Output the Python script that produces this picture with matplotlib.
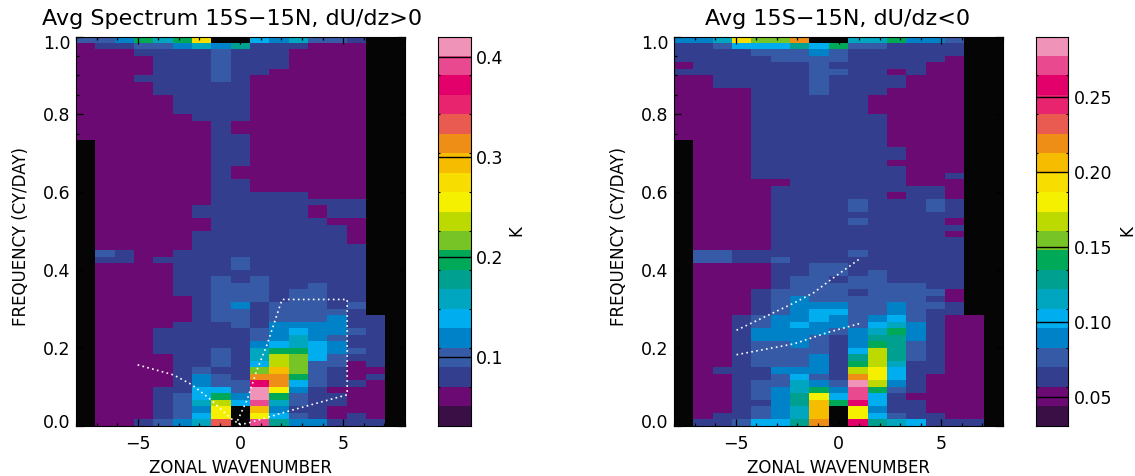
import numpy as np
import matplotlib
matplotlib.use('Agg')
import matplotlib.pyplot as plt
from matplotlib.colors import ListedColormap
from matplotlib.transforms import ScaledTranslation

plt.rcParams['font.family'] = ['DejaVu Sans']

# colour table, bottom to top
level_colors = ['#3a0f45', '#6b0a73', '#333e8f', '#365aa5', '#0082c8', '#00aeef',
                '#00a5c0', '#00a090', '#00a957', '#76c425', '#bcda00', '#f4f000',
                '#f8dd00', '#f5bc00', '#ee8e16', '#e95b50', '#e8246f', '#e4006a',
                '#e94a8f', '#f093b8']
codes = '0123456789abcdefghij'

# one string per frequency row, top row first, one char per wavenumber column
# char = colour level, '.' = black (off scale / no data)
rows_left = [
    '334868c..546332..',
    '122334647222111..',
    '111222232221111..',
    '111122232221111..',
    '111122232221111..',
    '111122232211111..',
    '111222232111111..',
    '111122222111111..',
    '111122222111111..',
    '111112222111111..',
    '111112222111111..',
    '111112222111111..',
    '111111222111111..',
    '111111121111111..',
    '111111121111111..',
    '111111122111111..',
    '.11111122111111..',
    '.11111122111111..',
    '.11111122111111..',
    '.11111122111111..',
    '.11111121111111..',
    '.11111121111111..',
    '.11111122111111..',
    '.11111122111111..',
    '.11111122222111..',
    '.11111122222222..',
    '.11111222222122..',
    '.11111222222122..',
    '.11111122222211..',
    '.11111122222221..',
    '.11111222222221..',
    '.11111222222221..',
    '.11111222222222..',
    '.32112222222222..',
    '.22122223222222..',
    '.11112223222222..',
    '.11112222222222..',
    '.11112232322222..',
    '.11112233322322..',
    '.11112233323322..',
    '.11111233323322..',
    '.11111234233323..',
    '.11111233233332..',
    '.111112332333422.',
    '.111122232444422.',
    '.111222223454432.',
    '.111222223464322.',
    '.111222224565422.',
    '.111222326885432.',
    '.111122326a95322.',
    '.111122325a93312.',
    '.111123229d93211.',
    '.11112432ee83212.',
    '.11112433he53221.',
    '.11122553jb42111.',
    '.11123584j832211.',
    '.111236a5i632211.',
    '.111234b.d422111.',
    '.111235b.b532121.',
    '.112346f.i744222.',
]

rows_right = [
    '446c99e..668443..',
    '223555758332222..',
    '222233343222222..',
    '222223333222221..',
    '122222232222211..',
    '222222233221211..',
    '112222232222111..',
    '112222232222111..',
    '111122232221111..',
    '111122222211111..',
    '111122222211111..',
    '111122222211111..',
    '111122222221111..',
    '111122222221111..',
    '111122222221111..',
    '111122222221111..',
    '.11122222221111..',
    '.11122222222111..',
    '.11122222222111..',
    '.11122222221111..',
    '.11122222222111..',
    '.11122222222112..',
    '.11111222222111..',
    '.11112222222221..',
    '.11112222221221..',
    '.11112222322232..',
    '.11112222322232..',
    '.11112222222222..',
    '.11112222322221..',
    '.11112222222222..',
    '.11112222222221..',
    '.11112222222222..',
    '.11112222222222..',
    '.33222222322222..',
    '.33223222222222..',
    '.11112233222222..',
    '.11112233232222..',
    '.11112332332222..',
    '.11112333333322..',
    '.11123333233331..',
    '.11123433333321..',
    '.11123444334332..',
    '.11123455334322..',
    '.112344543453211.',
    '.112345443564211.',
    '.112444434684211.',
    '.112444324774211.',
    '.112334324873211.',
    '.112333325a73211.',
    '.112333427a73211.',
    '.112333428a62211.',
    '.12224442ab52211.',
    '.11223532eb52111.',
    '.11233643ja42111.',
    '.11234684i832111.',
    '.112347b5i521111.',
    '.112247d8h522111.',
    '.112346d.b422111.',
    '.122346d.b532211.',
    '.223557e.h765222.',
]

# dotted dispersion curves, (wavenumber, frequency)
left_curve_k = [-5.0, -3.25, -2.36, -1.38, -0.49, 0.0, 0.49, 2.28, 3.9, 5.2, 5.2, 2.03, 1.3, 0.81, 0.33, -0.16, 0.0]
left_curve_f = [0.156, 0.13, 0.105, 0.064, 0.019, 0.002, 0.008, 0.036, 0.06, 0.079, 0.324, 0.324, 0.208, 0.143, 0.066, 0.01, 0.002]
right_upper_k = [-4.96, -2.16, -1.19, -0.37, 1.02]
right_upper_f = [0.245, 0.315, 0.342, 0.375, 0.428]
right_lower_k = [-4.96, -2.16, -0.54, 1.02]
right_lower_f = [0.182, 0.21, 0.239, 0.262]

title_left = 'Avg Spectrum 15S\u221215N, dU/dz>0'
title_right = 'Avg 15S\u221215N, dU/dz<0'
freq_ticks = [0.0, 0.2, 0.4, 0.6, 0.8, 1.0]
wave_ticks = [-5, 0, 5]
bar_left_lim = (0.031, 0.42)
bar_left_ticks = [0.1, 0.2, 0.3, 0.4]
bar_right_lim = (0.0311, 0.2905)
bar_right_ticks = [0.05, 0.10, 0.15, 0.20, 0.25]

W, H = 1135.0, 476.0
LABEL_FS = 12
TICK_FS = 12.5
TITLE_FS = 16
cmap = ListedColormap(['#050505'] + level_colors)
dots = (0, (1, 2))


def to_grid(rows):
    # map chars to 0 (black) and 1..20 (levels); row 0 is the top of the plot
    grid = [[0 if c == '.' else codes.index(c) + 1 for c in r] for r in rows]
    return np.array(grid)[::-1]


def px_axes(x0, x1, y0, y1):
    return fig.add_axes([x0 / W, 1 - y1 / H, (x1 - x0) / W, (y1 - y0) / H])


def shift_label(label, dy_px):
    # nudge a tick label vertically by some pixels
    label.set_transform(label.get_transform() + ScaledTranslation(0, dy_px / 100, fig.dpi_scale_trans))


def spectrum(x0, x1, rows):
    ax = px_axes(x0, x1, 36.5, 425.5)
    kedges = np.linspace(-8, 8, 18)
    fedges = np.linspace(0, 1, 61)
    ax.pcolormesh(kedges, fedges, to_grid(rows), cmap=cmap, vmin=-0.5, vmax=20.5, linewidth=0)
    ax.set_xlim(-8, 8)
    ax.set_ylim(0, 1)
    ax.set_xticks(wave_ticks)
    ax.set_xticklabels(['\u22125', '0', '5'])
    ax.set_xticks(np.arange(-8, 9), minor=True)
    ax.set_yticks(freq_ticks)
    ax.set_yticks(np.arange(0, 1.01, 0.05), minor=True)
    ax.tick_params(which='major', direction='in', top=True, right=True, length=5, width=0.9,
                   labelsize=TICK_FS)
    ax.tick_params(axis='x', which='major', pad=7)
    ax.tick_params(axis='y', which='major', pad=4)
    ax.tick_params(which='minor', direction='in', top=True, right=True, length=2.5, width=0.9)
    # end labels sit inside the axis range, as in the original plot
    labels = ax.get_yticklabels()
    shift_label(labels[0], 5)
    shift_label(labels[-1], -5)
    ax.set_xlabel('ZONAL WAVENUMBER', fontsize=LABEL_FS, labelpad=4)
    ax.set_ylabel('FREQUENCY (CY/DAY)', fontsize=LABEL_FS)
    ax.yaxis.set_label_coords(-46 / (x1 - x0), 0.485)
    return ax


def colorbar(x0, x1, lim, ticks, fmt, label_x):
    ax = px_axes(x0, x1, 36.5, 425.5)
    edges = np.linspace(lim[0], lim[1], 21)
    ax.pcolormesh([0, 1], edges, np.arange(1, 21).reshape(-1, 1), cmap=cmap, vmin=-0.5, vmax=20.5)
    ax.set_ylim(lim)
    ax.set_xlim(0, 1)
    ax.set_xticks([])
    ax.yaxis.tick_right()
    ax.set_yticks(ticks)
    ax.set_yticklabels([fmt % t for t in ticks])
    ax.set_yticks(edges[2:-1:2], minor=True)
    ax.tick_params(axis='y', which='major', length=0, pad=4, labelsize=TICK_FS)
    ax.tick_params(axis='y', which='minor', direction='in', left=True, right=True, length=1.5, width=0.8)
    for t in ticks:
        ax.axhline(t, color='k', lw=1.0)
    fig.text(label_x / W, 1 - 231 / H, 'K', rotation=90, fontsize=LABEL_FS, ha='center', va='center')
    return ax


fig = plt.figure(figsize=(W / 100, H / 100), dpi=100)

ax1 = spectrum(76, 404.7, rows_left)
ax1.plot(left_curve_k, left_curve_f, color='white', lw=1.2, ls=dots)
fig.text(232 / W, 1 - 25 / H, title_left, fontsize=TITLE_FS, ha='center', va='baseline')

ax2 = spectrum(674, 1003, rows_right)
ax2.plot(right_upper_k, right_upper_f, color='white', lw=1.2, ls=dots)
ax2.plot(right_lower_k, right_lower_f, color='white', lw=1.2, ls=dots)
fig.text(838 / W, 1 - 25 / H, title_right, fontsize=TITLE_FS, ha='center', va='baseline')

colorbar(437.7, 470.7, bar_left_lim, bar_left_ticks, '%.1f', 516)
colorbar(1035.7, 1068.3, bar_right_lim, bar_right_ticks, '%.2f', 1127)

fig.savefig('out.png', dpi=100)
